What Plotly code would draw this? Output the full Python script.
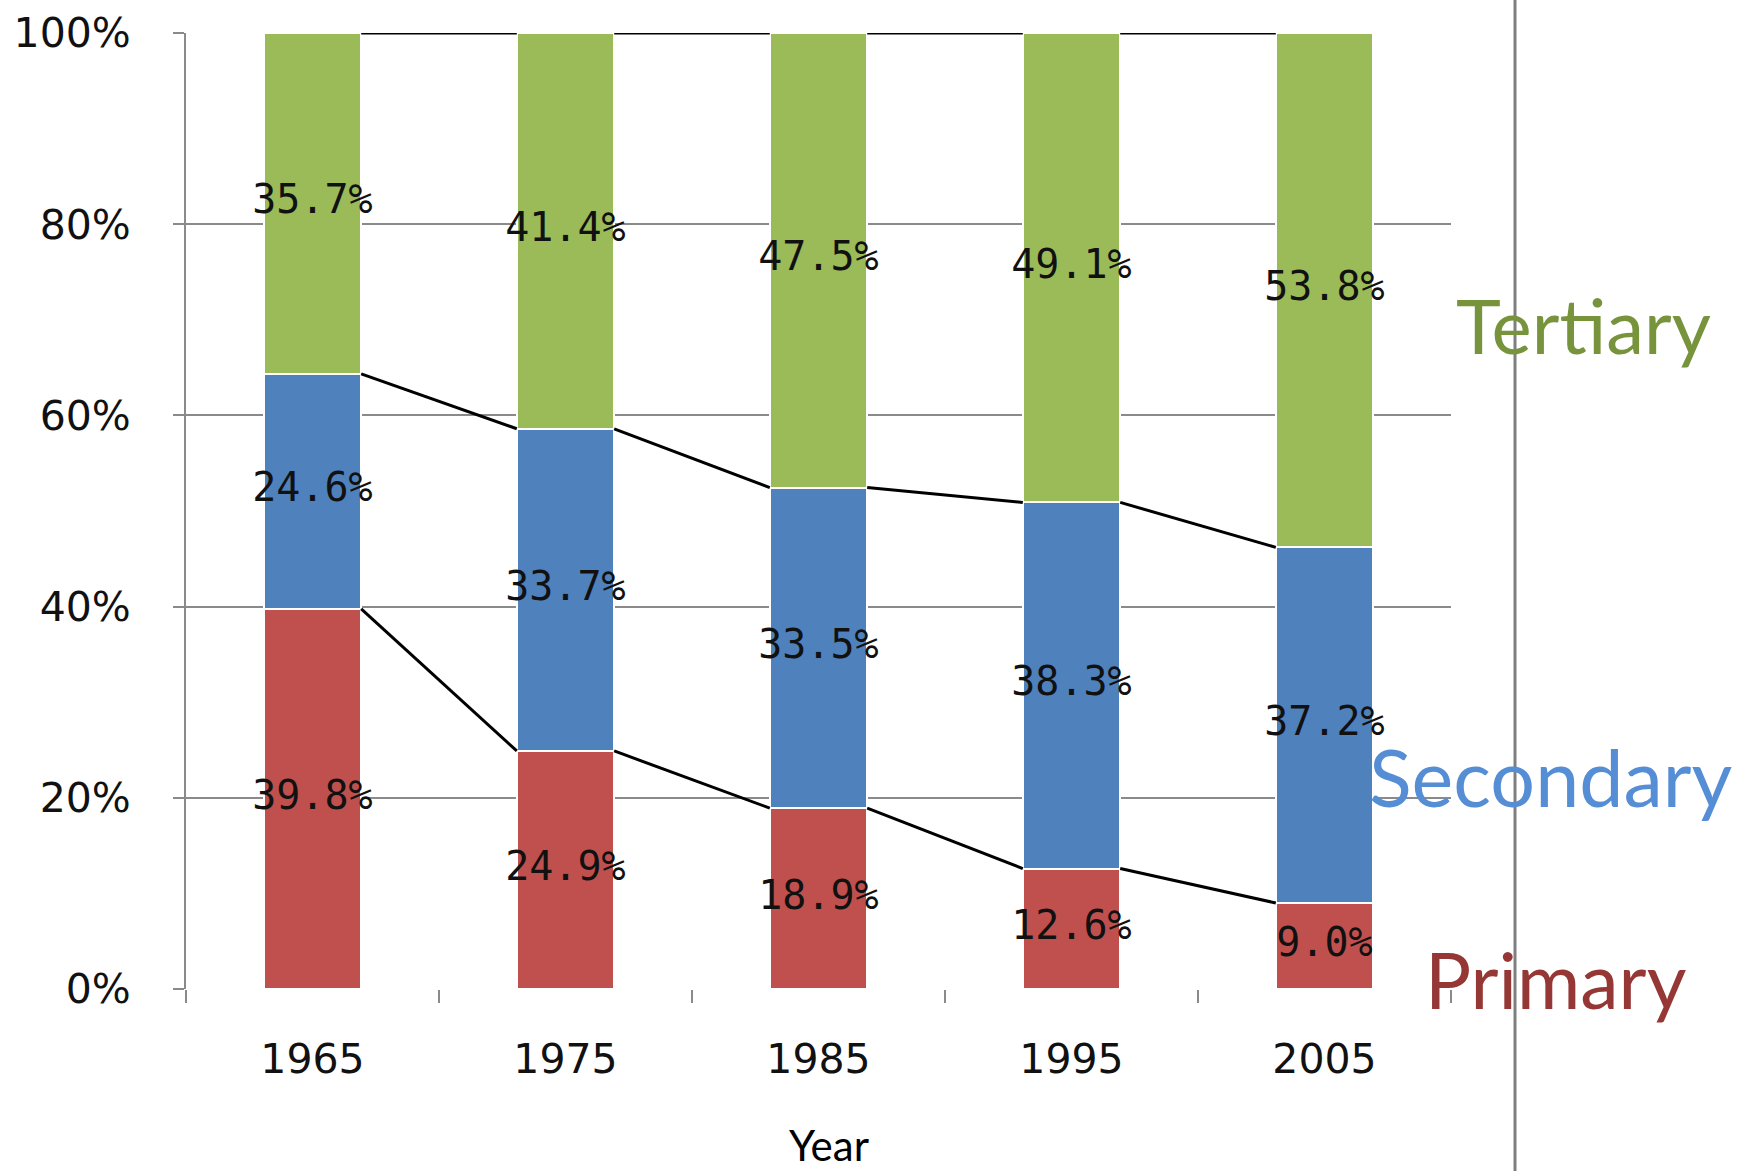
import plotly.graph_objects as go

years = ["1965", "1975", "1985", "1995", "2005"]
primary = [39.8, 24.9, 18.9, 12.6, 9.0]
secondary = [24.6, 33.7, 33.5, 38.3, 37.2]
tertiary = [35.7, 41.4, 47.5, 49.1, 53.8]
y_ticks = [0, 20, 40, 60, 80, 100]
y_ticktext = ["0%", "20%", "40%", "60%", "80%", "100%"]

pos = list(range(len(years)))
BAR_W = 0.385

# normalise to 100% like an Excel 100% stacked column chart
tot = [p + s + t for p, s, t in zip(primary, secondary, tertiary)]
p_n = [p / T * 100 for p, T in zip(primary, tot)]
s_n = [s / T * 100 for s, T in zip(secondary, tot)]
t_n = [t / T * 100 for t, T in zip(tertiary, tot)]
c1 = p_n
c2 = [a + b for a, b in zip(p_n, s_n)]
c3 = [a + b for a, b in zip(c2, t_n)]

GREEN, BLUE, RED = "#9BBB59", "#4F81BD", "#C0504D"

fig = go.Figure()
for name, vals, col in [("Primary", p_n, RED), ("Secondary", s_n, BLUE), ("Tertiary", t_n, GREEN)]:
    fig.add_trace(go.Bar(x=pos, y=vals, name=name, width=BAR_W,
                         marker=dict(color=col, line=dict(color="white", width=2)),
                         hoverinfo="skip"))

# series lines between bars
def series_line(cum):
    xs, ys = [], []
    for i in range(len(cum) - 1):
        xs += [i + BAR_W / 2, i + 1 - BAR_W / 2, None]
        ys += [cum[i], cum[i + 1], None]
    return xs, ys

for cum in (c1, c2, c3):
    xs, ys = series_line(cum)
    fig.add_trace(go.Scatter(x=xs, y=ys, mode="lines", line=dict(color="black", width=3),
                             hoverinfo="skip", showlegend=False))

# data labels (centred in each segment)
lab_font = dict(family="DejaVu Sans Mono", size=40, color="#111111")
for vals, base in [(primary, [0] * 5), (secondary, c1), (tertiary, c2)]:
    norm = [v / T * 100 for v, T in zip(vals, tot)]
    fig.add_trace(go.Scatter(x=pos, y=[b + n / 2 for b, n in zip(base, norm)], mode="text",
                             text=[f"{v:.1f}%" for v in vals], textfont=lab_font,
                             hoverinfo="skip", showlegend=False))

# dummy trace on xaxis2 for category-boundary tick marks
fig.add_trace(go.Scatter(x=[-0.5, 4.5], y=[None, None], xaxis="x2", mode="lines",
                         showlegend=False, hoverinfo="skip"))

GRID = "#8a8a8a"
fig.update_layout(
    width=1737, height=1171,
    margin=dict(l=186, r=286, t=33, b=182, autoexpand=False),
    paper_bgcolor="white", plot_bgcolor="white",
    barmode="stack", showlegend=False,
    xaxis=dict(range=[-0.5, 4.5], tickvals=pos, ticktext=years, ticks="", automargin=False,
               tickfont=dict(family="DejaVu Sans", size=41, color="#111111"),
               showgrid=False, zeroline=False, showline=False, ticklabelstandoff=42),
    xaxis2=dict(range=[-0.5, 4.5], overlaying="x", side="bottom", anchor="y", automargin=False,
                tickvals=[-0.5, 0.5, 1.5, 2.5, 3.5, 4.5], showticklabels=False,
                ticks="outside", ticklen=13, tickwidth=2, tickcolor=GRID,
                showgrid=False, zeroline=False, showline=False),
    yaxis=dict(range=[0, 100], tickvals=y_ticks, ticktext=y_ticktext, automargin=False,
               tickfont=dict(family="DejaVu Sans", size=41, color="#111111"),
               showgrid=True, gridcolor=GRID, gridwidth=2,
               ticks="outside", ticklen=11, tickwidth=2, tickcolor=GRID,
               showline=True, linecolor=GRID, linewidth=2, zeroline=False,
               ticklabelstandoff=34),
)

# right-hand separator line
fig.add_shape(type="line", xref="paper", yref="paper", x0=1.0506, x1=1.0506, y0=-0.2, y1=1.05,
              line=dict(color="#7f7f7f", width=3))

big = "Lato"
fig.add_annotation(text="Tertiary", xref="paper", yref="paper", x=1.105, y=0.695, showarrow=False,
                   font=dict(family=big, size=76, color="#77933C"), xanchor="center", yanchor="middle")
fig.add_annotation(text="Secondary", xref="paper", yref="paper", x=1.079, y=0.222, showarrow=False,
                   font=dict(family=big, size=79, color="#558ED5"), xanchor="center", yanchor="middle")
fig.add_annotation(text="Primary", xref="paper", yref="paper", x=1.083, y=0.01, showarrow=False,
                   font=dict(family=big, size=77, color="#953735"), xanchor="center", yanchor="middle")
fig.add_annotation(text="Year", xref="paper", yref="paper", x=0.508, y=-0.163, showarrow=False,
                   font=dict(family=big, size=42, color="black"), xanchor="center", yanchor="middle")

fig.write_html("out.html")
